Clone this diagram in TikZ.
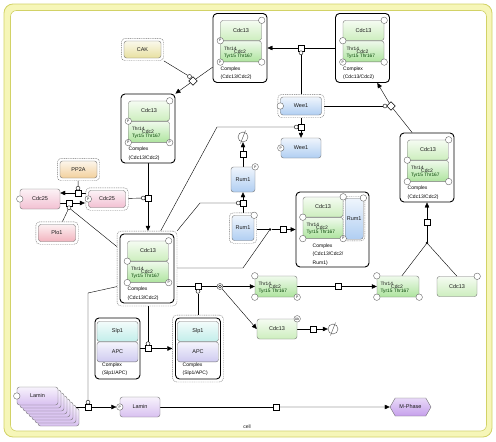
\documentclass[tikz,border=0pt]{standalone}
\usepackage{fontspec}
\setmainfont{Liberation Sans}
\usetikzlibrary{arrows.meta,positioning,fit,backgrounds,shapes.symbols}
\definecolor{cthirteen}{HTML}{CDEEBE}
\definecolor{ctwo}{HTML}{AEE49E}
\definecolor{cblue}{HTML}{B0CEF2}
\definecolor{cpink}{HTML}{F2C0D2}
\definecolor{cred}{HTML}{F2B4BE}
\definecolor{corange}{HTML}{F2D09C}
\definecolor{cyellow}{HTML}{E8E0A0}
\definecolor{ccyan}{HTML}{C2EEEA}
\definecolor{capc}{HTML}{CECAF0}
\definecolor{clamin}{HTML}{D8C0F0}
\definecolor{cphen}{HTML}{C6A0EC}
\definecolor{cellband}{HTML}{F6F6B8}
\definecolor{celledge}{HTML}{D2D266}
\begin{document}
\begin{tikzpicture}[x=1pt,y=-1pt,
    font=\fontsize{5.5}{6.5}\selectfont,
    every node/.style={inner sep=0pt, text=black!90},
    sp/.style={draw=black!55, rounded corners=2.5pt, top color=#1!20!white, bottom color=#1},
    sz/.style 2 args={minimum width=#1, minimum height=#2},
    cx/.style={draw=black, line width=0.9pt, rounded corners=4pt, fill=white},
    act/.style={draw=black!55, dash pattern=on 1pt off 0.8pt, rounded corners=4pt, inner sep=2.5pt},
    st/.style={circle, draw=black!60, fill=white, minimum size=6.5pt, font=\fontsize{3.5}{4}\selectfont},
    pr/.style={draw=black, fill=white, minimum size=6pt},
    ca/.style={circle, draw=black, fill=white, minimum size=4pt},
    jn/.style={circle, fill=black, minimum size=2.6pt},
    es/.style={circle, draw=black!70, minimum size=10pt},
    ar/.style={-{Triangle[length=5pt,width=4.5pt]}},
    cxlbl/.style={anchor=north west, align=left, text=black, font=\fontsize{5}{8.5}\selectfont},
    res/.style={anchor=west, font=\fontsize{4.8}{5}\selectfont},
  ]
  \useasboundingbox (0,0) rectangle (496,442);
  % compartment
  \begin{scope}[on background layer]
    \draw[celledge, fill=cellband, rounded corners=9pt, line width=0.8pt] (4,4) rectangle (492,437);
    \draw[celledge, fill=white, rounded corners=6pt, line width=0.6pt] (10.5,10.5) rectangle (486.5,431);
  \end{scope}
  \node[font=\fontsize{5}{6}\selectfont] (cellLbl) at (247,427) {cell};

  % complexes Cdc13/Cdc2
  \foreach \n/\x/\y in {cxA/240/48, cxB/148/128.5, cxC/147/268.5, cxD/362.5/48, cxE/427/167.5} {
    \node[cx, sz={54}{69}] (\n) at (\x,\y) {};
    \node[sp=cthirteen, sz={41}{20}] (\n13) at (\x+1,\y-17.5) {Cdc13};
    \node[sp=ctwo, sz={41}{21}, below=0pt of \n13] (\n2) {};
    \node[cxlbl] (\n-l) at (\x-19.5,\y+18.5) {Complex\\(Cdc13/Cdc2)};
  }
  \node[act, fit=(cxC)] (cxCo) {};

  \node[cx, sz={73}{75}] (cxF) at (332.5,229.5) {};
  \node[sp=cthirteen, sz={40}{20}] (cxF13) at (323,207) {Cdc13};
  \node[sp=ctwo, sz={40}{21}, below=0pt of cxF13] (cxF2) {};
  \node[sp=cblue, sz={18}{41}, anchor=north west] (cxFr) at (345,198) {Rum1};
  \node[act, fit=(cxFr), inner sep=1.5pt] (cxFro) {};
  \node[cxlbl] (cxF-l) at (312.5,243.5) {Complex\\(Cdc13/Cdc2/\\Rum1)};

  \node[sp=ctwo, sz={42}{21}] (frA) at (276,286.5) {};
  \node[sp=ctwo, sz={42}{21}] (frB) at (398,286.5) {};

  \foreach \n in {cxA2,cxB2,cxC2,cxD2,cxE2,cxF2,frA,frB} {
    \node[res] (\n-t) at ([shift={(3.5,-3)}]\n.west) {Thr14};
    \node[font=\fontsize{5}{6}\selectfont] (\n-c) at ([shift={(-1,0)}]\n.center) {Cdc2};
    \node[res, text=green!25!black] (\n-y) at ([shift={(3.5,4.8)}]\n.west) {Tyr15 Thr167};
  }

  % complexes Slp1/APC
  \foreach \n/\x in {cxG/117.5, cxH/198} {
    \node[cx, sz={45}{61}] (\n) at (\x,348.5) {};
    \node[sp=ccyan, sz={41}{20}] (\n s) at (\x,331.5) {Slp1};
    \node[sp=capc, sz={41}{20}, below=0pt of \n s] (\n a) {APC};
    \node[cxlbl] (\n-l) at (\x-15.5,362.5) {Complex\\(Slp1/APC)};
  }
  \node[act, fit=(cxH)] (cxHo) {};

  % species
  \node[sp=cyellow, sz={37}{17}] (cak) at (142.5,49.5) {CAK};
  \node[act, fit=(cak)] (cakO) {};
  \node[sp=corange, sz={37}{17}] (pp2a) at (78.5,169.5) {PP2A};
  \node[act, fit=(pp2a)] (pp2aO) {};
  \node[sp=cpink, sz={40}{20}] (cdc25L) at (40,199) {Cdc25};
  \node[sp=cpink, sz={37}{17}] (cdc25R) at (107,199) {Cdc25};
  \node[act, fit=(cdc25R)] (cdc25RO) {};
  \node[sp=cred, sz={37}{17}] (plo1) at (57,233) {Plo1};
  \node[act, fit=(plo1)] (plo1O) {};
  \node[sp=cblue, sz={41}{18}] (wee1a) at (301,106) {Wee1};
  \node[act, fit=(wee1a)] (wee1aO) {};
  \node[sp=cblue, sz={40}{20}] (wee1p) at (301,148) {Wee1};
  \node[sp=cblue, sz={24}{25}] (rum1p) at (243,179.5) {Rum1};
  \node[sp=cblue, sz={22}{25}] (rum1a) at (243,228) {Rum1};
  \node[act, fit=(rum1a)] (rum1aO) {};
  \node[sp=cthirteen, sz={40}{20}] (cdc13b) at (457,286.5) {Cdc13};
  \node[sp=cthirteen, sz={40}{20}] (cdc13u) at (277,329) {Cdc13};
  \foreach \k in {7,6,...,1}
    \node[sp=clamin, sz={41}{18}] (laminM\k) at (37.5+3*\k,396+3*\k) {};
  \node[sp=clamin, sz={41}{18}] (laminM0) at (37.5,396) {Lamin};
  \node[sp=clamin, sz={40}{20}] (laminP) at (140,407) {Lamin};
  \node[signal, signal to=west and east, signal pointer angle=120, draw=black!55,
    top color=cphen!40!white, bottom color=cphen, sz={41}{18}] (mph) at (410.5,407) {M-Phase};

  % state variables
  \foreach \p/\a/\t [count=\i] in {cxA13/north east/{}, cxA2/north west/P, cxA2/south west/P, cxA2/south east/{},
      cxB13/north east/{}, cxB2/north west/P, cxB2/south west/P, cxB2/south east/P,
      cxC13/north east/{}, cxC2/north west/{}, cxC2/south west/{}, cxC2/south east/P,
      cxD13/north east/{}, cxD2/north west/{}, cxD2/south west/P, cxD2/south east/{},
      cxE13/north east/{}, cxE2/north west/{}, cxE2/south west/{}, cxE2/south east/{},
      cxF13/north east/{}, cxFr/north east/{}, cxF2/north west/{}, cxF2/south west/{}, cxF2/south east/P,
      frA/north west/{}, frA/south west/{}, frA/south east/P,
      frB/north west/{}, frB/south west/{}, frB/south east/{},
      cdc13b/north east/{}, cdc13u/north east/Ub, cdc25L/west/{},
      wee1a/west/{}, wee1p/west/P, rum1p/north east/P, rum1a/north east/{}, laminM0/west/{}}
    \node[st] (st\i) at (\p.\a) {\t};
  \node[st] (cdc25Rp) at (cdc25R.west) {P};
  \node[st] (laminPp) at (laminP.west) {P};

  % process nodes
  \node[pr] (sqD) at (301,48) {};
  \node[pr, rotate=45] (dmA) at (193,81) {};
  \node[pr, rotate=45] (dmE) at (391,106) {};
  \node[pr] (sqW) at (301,127) {};
  \node[pr] (sqR) at (243,203) {};
  \node[pr] (sqRd) at (243,154) {};
  \node[pr] (sqF) at (283,229.5) {};
  \node[pr] (sqB) at (148,198) {};
  \node[pr] (sqC) at (198,286.5) {};
  \node[pr] (sqV) at (338,286.5) {};
  \node[pr] (sqE) at (427,222) {};
  \node[pr] (sqU) at (313,329) {};
  \node[pr] (sqG) at (148,348.5) {};
  \node[pr] (sq25a) at (78,193) {};
  \node[pr] (sq25b) at (69,203) {};
  \node[pr] (sqL) at (88,407) {};
  \node[pr] (sqM) at (276,407) {};
  \node[circle, draw=black!80, fill=white, minimum size=6pt] (dis) at (220,286.5) {};
  \node[circle, draw=black!80, minimum size=3pt] (disIn) at (dis) {};
  \node[jn] (dotF) at (270,229.5) {};
  \node[jn] (dotE) at (427,243) {};
  \node[es] (es1) at (243,137) {};
  \node[es] (es2) at (333,329) {};
  \foreach \e in {es1,es2}
    \draw[black!70] ([shift={(-2.5,6.5)}]\e.center) -- ([shift={(2.5,-6.5)}]\e.center);

  % modifier circles
  \node[ca] (caD) at (301,52.8) {};
  \node[ca] (caA) at (189.5,76.5) {};
  \node[ca] (caE) at (385,106) {};
  \node[ca] (caW) at (296.2,127) {};
  \node[ca] (caR) at (238.2,203) {};
  \node[ca] (caB) at (143.2,198) {};
  \node[ca] (caC) at (198,291.3) {};
  \node[ca] (caG) at (148,343.7) {};
  \node[ca] (ca25a) at (78,188.2) {};
  \node[ca] (ca25b) at (69,207.8) {};
  \node[ca] (caL) at (88,402.2) {};

  \coordinate (bW) at (217,127);
  \coordinate (bR) at (200,203);
  \coordinate (bF) at (243,268);
  \coordinate (bL) at (88,293);

  % connectors
  \begin{scope}[on background layer, black!85, line width=0.5pt]
    \draw (cxD.west) -- (sqD);
    \draw[ar] (sqD) -- (cxA.east);
    \draw (wee1aO) -- (caD);
    \draw (cxA.215) -- (dmA);
    \draw[ar] (dmA) -- (cxB.north east);
    \draw (cakO.south east) -- (caA);
    \draw (cxE.113) -- (dmE);
    \draw[ar] (dmE) -- (cxD.-67);
    \draw (wee1aO) -- (caE);
    \draw (wee1aO) -- (sqW);
    \draw[ar] (sqW) -- (wee1p);
    \draw (cxCo.70) -- (bW) -- (caW);
    \draw (rum1aO) -- (sqR);
    \draw[ar] (sqR) -- (rum1p);
    \draw (cxCo.north east) -- (bR) -- (caR);
    \draw (rum1p) -- (sqRd);
    \draw[ar] (sqRd) -- (es1);
    \draw (rum1aO.east |- dotF) -- (dotF);
    \draw (cxCo.east |- bF) -- (bF) -- (dotF);
    \draw (dotF) -- (sqF);
    \draw[ar] (sqF) -- (sqF -| cxF.west);
    \draw (cxCo.east |- sqC) -- (sqC) -- (dis);
    \draw[ar] (dis) -- (dis -| frA.west);
    \draw[ar] (dis) -- (cdc13u.west);
    \draw (cxHo) -- (caC);
    \draw (frA) -- (sqV);
    \draw[ar] (sqV) -- (sqV -| frB.west);
    \draw (frB.70) -- (dotE) -- (cdc13b.north);
    \draw (dotE) -- (sqE);
    \draw[ar] (sqE) -- (cxE);
    \draw (cdc13u) -- (sqU);
    \draw[ar] (sqU) -- (es2);
    \draw (cxG) -- (sqG);
    \draw[ar] (sqG) -- (sqG -| cxHo.west);
    \draw (cxCo.south -| caG) -- (caG);
    \draw (cxB) -- (sqB);
    \draw[ar] (sqB) -- (sqB |- cxCo.north);
    \draw (cdc25RO) -- (caB);
    \draw (cdc25RO.west |- sq25a) -- (sq25a);
    \draw[ar] (sq25a) -- (sq25a -| cdc25L.east);
    \draw (pp2aO) -- (ca25a);
    \draw (cdc25L.east |- sq25b) -- (sq25b);
    \draw[ar] (sq25b) -- (sq25b -| cdc25Rp.west);
    \draw (plo1O) -- (ca25b);
    \draw (cxCo.144) -- (ca25b);
    \draw (laminM6.east |- sqL) -- (sqL);
    \draw[ar] (sqL) -- (laminPp);
    \draw (cxCo.211) -- (bL) -- (caL);
    \draw (laminP) -- (sqM);
    \draw[ar] (sqM) -- (mph);
  \end{scope}
\end{tikzpicture}
\end{document}
